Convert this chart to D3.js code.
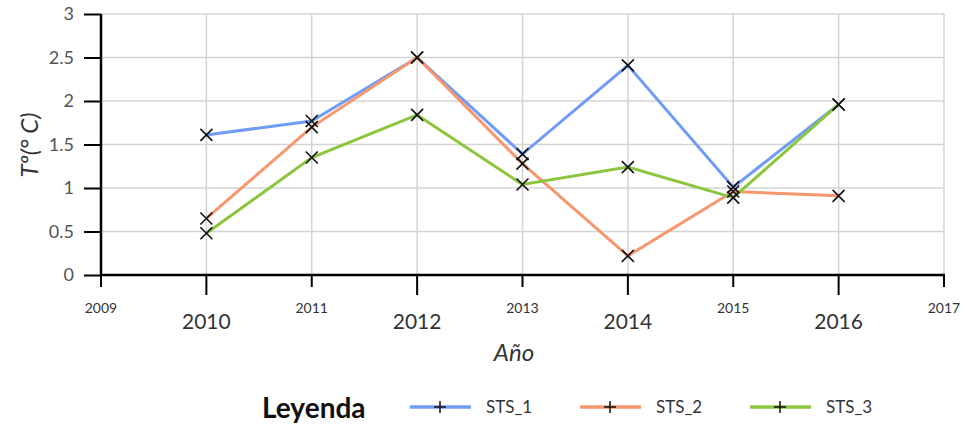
<!DOCTYPE html>
<html>
<head>
<meta charset="utf-8">
<script src="https://cdn.jsdelivr.net/npm/d3@7"></script>
<style>
  body { margin: 0; background: #fff; }
  svg { display: block; font-family: Lato, "Open Sans", sans-serif; }
</style>
</head>
<body>
<script>
// Years on the x axis
const years = [2010, 2011, 2012, 2013, 2014, 2015, 2016];

// Series values (temperature, °C)
const sts1 = [1.61, 1.77, 2.50, 1.39, 2.41, 1.01, 1.96];
const sts2 = [0.65, 1.70, 2.50, 1.28, 0.22, 0.96, 0.91];
const sts3 = [0.48, 1.35, 1.84, 1.04, 1.24, 0.89, 1.96];

const seriesNames = ["STS_1", "STS_2", "STS_3"];
const seriesColors = ["#6f9cf4", "#f6976d", "#8cc63e"];

// Tick labels
const xTicks = [2009, 2010, 2011, 2012, 2013, 2014, 2015, 2016, 2017];
const yTicks = [0, 0.5, 1, 1.5, 2, 2.5, 3];

const width = 966, height = 435;

const svg = d3.select('body')
  .append('svg')
  .attr('width', width)
  .attr('height', height);

const x = d3.scaleLinear().domain([2009, 2017]).range([101, 944]);
const y = d3.scaleLinear().domain([0, 3]).range([275, 14]);

// Grid
const grid = svg.append('g').attr('stroke', '#d4d4d4').attr('stroke-width', 1.5);
grid.selectAll('.hg').data(yTicks.slice(1)).enter().append('line')
  .attr('x1', x(2009)).attr('x2', x(2017))
  .attr('y1', d => y(d)).attr('y2', d => y(d));
grid.selectAll('.vg').data(xTicks.slice(1)).enter().append('line')
  .attr('x1', d => x(d)).attr('x2', d => x(d))
  .attr('y1', y(0)).attr('y2', y(3));

// Y axis
const yAxis = svg.append('g')
  .attr('transform', `translate(${x(2009)},0)`)
  .call(d3.axisLeft(y).tickValues(yTicks).tickFormat(d3.format('')).tickSize(17).tickPadding(10));
yAxis.select('.domain').attr('stroke', '#000').attr('stroke-width', 2.5).attr('d', `M0,${y(3)}V${y(0)}`);
yAxis.selectAll('.tick line').attr('stroke', '#000').attr('stroke-width', 2);
yAxis.selectAll('.tick text').attr('font-size', 18).attr('fill', '#555')
  .style('font-family', 'Lato, sans-serif');

// X axis: even years with long ticks and big labels, odd years short/small
const xAxis = svg.append('g').attr('transform', `translate(0,${y(0)})`);
xAxis.append('line')
  .attr('x1', x(2009) - 1).attr('x2', x(2017) + 1)
  .attr('y1', 0).attr('y2', 0)
  .attr('stroke', '#000').attr('stroke-width', 2.5);
xAxis.selectAll('.xt').data(xTicks).enter().append('line')
  .attr('x1', d => x(d)).attr('x2', d => x(d))
  .attr('y1', 0).attr('y2', d => d % 2 === 0 ? 20 : 12)
  .attr('stroke', '#000').attr('stroke-width', 2);
xAxis.selectAll('.xl').data(xTicks).enter().append('text')
  .attr('x', d => x(d))
  .attr('y', d => d % 2 === 0 ? 54 : 38)
  .attr('text-anchor', 'middle')
  .attr('font-size', d => d % 2 === 0 ? 21 : 14)
  .attr('fill', '#333')
  .text(d => d);

// Axis titles
svg.append('text')
  .attr('x', 514).attr('y', 361)
  .attr('text-anchor', 'middle')
  .attr('font-size', 24).attr('font-style', 'italic').attr('fill', '#333')
  .text('Año');
svg.append('text')
  .attr('transform', 'translate(38,145) rotate(-90)')
  .attr('text-anchor', 'middle')
  .attr('font-size', 24).attr('font-style', 'italic').attr('fill', '#333')
  .text('Tº(° C)');

// Lines and markers
const allSeries = [sts1, sts2, sts3];
const line = d3.line().x((d, i) => x(years[i])).y(d => y(d));

allSeries.forEach((vals, k) => {
  svg.append('path')
    .datum(vals)
    .attr('fill', 'none')
    .attr('stroke', seriesColors[k])
    .attr('stroke-width', 3)
    .attr('d', line);
});

allSeries.forEach(vals => {
  svg.append('g').selectAll('path').data(vals).enter().append('path')
    .attr('transform', (d, i) => `translate(${x(years[i])},${y(d)})`)
    .attr('d', 'M-6,-6L6,6M-6,6L6,-6')
    .attr('stroke', '#111')
    .attr('stroke-width', 1.6);
});

// Legend
const legend = svg.append('g');
legend.append('text')
  .attr('x', 262).attr('y', 418)
  .attr('font-size', 28).attr('font-weight', 'bold').attr('fill', '#111')
  .text('Leyenda');
const legendX = [410, 580, 750];
seriesNames.forEach((name, k) => {
  const lx = legendX[k];
  legend.append('line')
    .attr('x1', lx).attr('x2', lx + 61)
    .attr('y1', 407).attr('y2', 407)
    .attr('stroke', seriesColors[k]).attr('stroke-width', 3.5);
  legend.append('path')
    .attr('d', `M${lx + 30},401V413M${lx + 24},407H${lx + 36}`)
    .attr('stroke', '#111').attr('stroke-width', 1.5);
  legend.append('text')
    .attr('x', lx + 76).attr('y', 413)
    .attr('font-size', 17).attr('fill', '#333')
    .text(name);
});
</script>
</body>
</html>
